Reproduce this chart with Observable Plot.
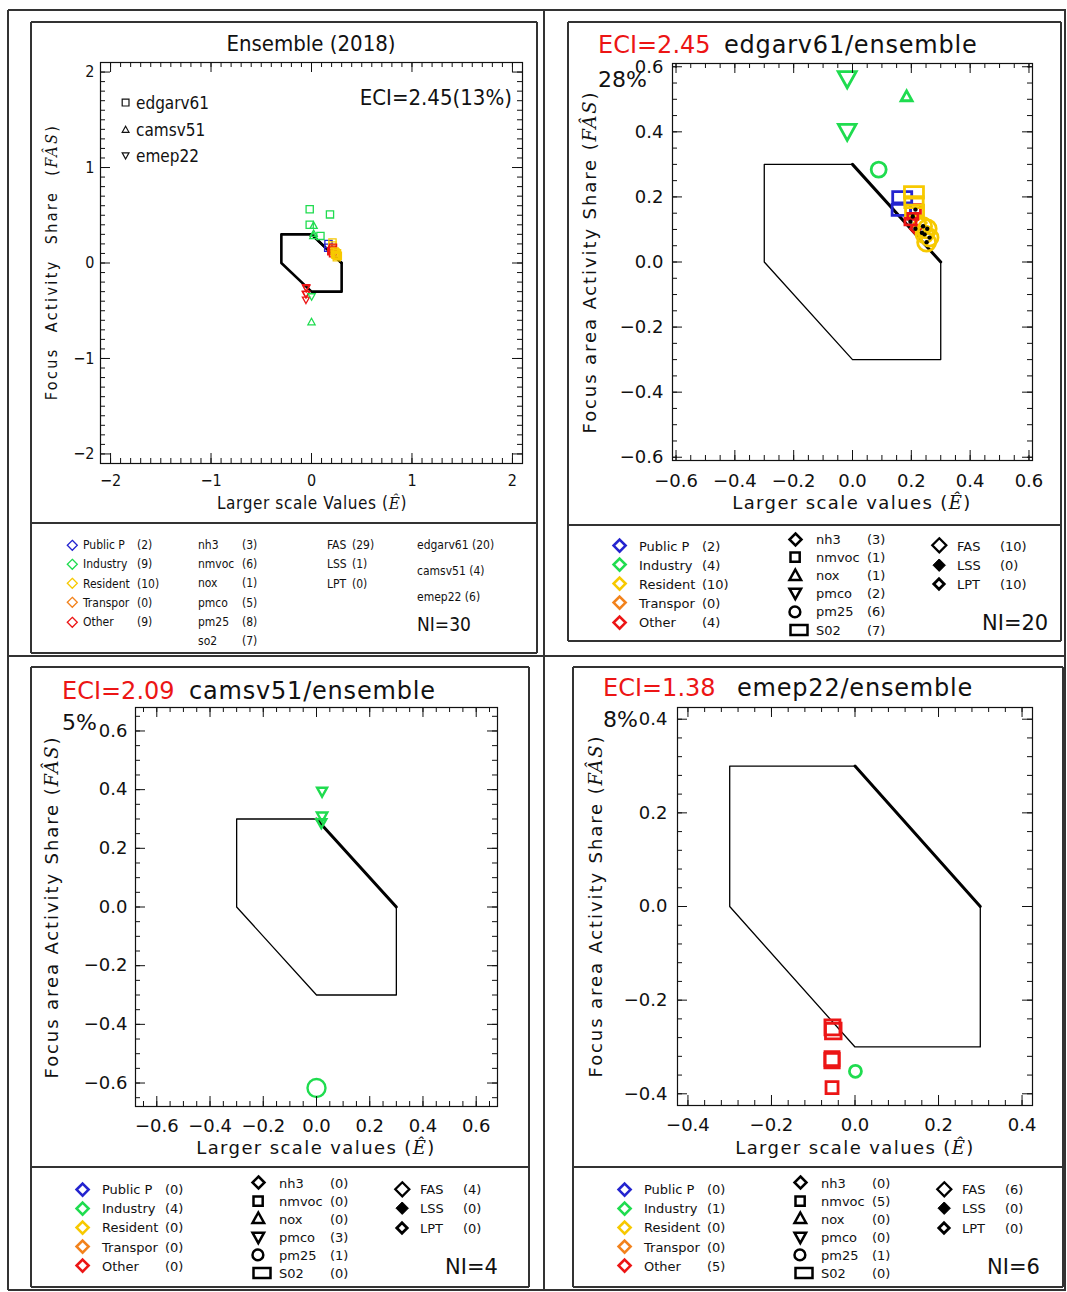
<!DOCTYPE html>
<html><head><meta charset="utf-8">
<script src="https://cdn.jsdelivr.net/npm/d3@7"></script>
<script src="https://cdn.jsdelivr.net/npm/@observablehq/plot@0.6"></script>
<style>
html,body{margin:0;padding:0;background:#fff}
#page{position:relative;width:1067px;height:1292px;overflow:hidden;background:#fff;font-family:"DejaVu Sans",sans-serif;color:#111}
.a{position:absolute;white-space:nowrap;line-height:1}
.cond{font-family:"DejaVu Sans Condensed","DejaVu Sans","Liberation Sans Narrow",sans-serif;font-stretch:condensed}
.ser{font-family:"DejaVu Serif",serif;font-style:italic}
</style></head><body><div id="page"></div>
<script>
// ================= DATA =================
const sectorNames = ["Public P", "Industry", "Resident", "Transpor", "Other"];
const sectorColors = ["#2424cf", "#1fdc4f", "#f7c900", "#f2821c", "#ec1515"];
const pollutantNames = ["nh3", "nmvoc", "nox", "pmco", "pm25", "S02"];
const pollutantNamesEns = ["nh3", "nmvoc", "nox", "pmco", "pm25", "so2"];
const classNames = ["FAS", "LSS", "LPT"];
const modelNames = ["edgarv61", "camsv51", "emep22"];

// hexagon (target area) vertices
const hexX = [-0.3, 0, 0.3, 0.3, 0, -0.3, -0.3];
const hexY = [0.3, 0.3, 0, -0.3, -0.3, 0, 0.3];

// edgarv61 points
const edgarX = [-0.018, -0.018, 0.184, 0.089, 0.169, 0.166, 0.209, 0.209, 0.211, 0.214, 0.197, 0.205, 0.214, 0.230, 0.236, 0.254, 0.252, 0.245, 0.262, 0.240];
const edgarY = [0.563, 0.401, 0.509, 0.284, 0.199, 0.160, 0.214, 0.184, 0.158, 0.161, 0.124, 0.140, 0.102, 0.120, 0.090, 0.102, 0.061, 0.085, 0.075, 0.110];
const edgarSector = ["Industry", "Industry", "Industry", "Industry", "Public P", "Public P", "Resident", "Resident", "Resident", "Other", "Other", "Other", "Other", "Resident", "Resident", "Resident", "Resident", "Resident", "Resident", "Resident"];
const edgarPollutant = ["pmco", "pmco", "nox", "pm25", "S02", "S02", "S02", "S02", "S02", "nmvoc", "S02", "S02", "nh3", "nh3", "nh3", "pm25", "pm25", "pm25", "pm25", "pm25"];
const edgarClass = ["FAS", "FAS", "FAS", "FAS", "FAS", "FAS", "FAS", "FAS", "FAS", "LPT", "LPT", "LPT", "LPT", "FAS", "LPT", "LPT", "LPT", "LPT", "LPT", "LPT"];
const edgarShare = [90, 88, 55, 75, 95, 92, 95, 92, 90, 50, 55, 50, 50, 60, 55, 90, 90, 85, 85, 85];

// camsv51 points
const camsX = [0.021, 0.021, 0.018, 0.0];
const camsY = [0.393, 0.308, 0.286, -0.617];
const camsSector = ["Industry", "Industry", "Industry", "Industry"];
const camsPollutant = ["pmco", "pmco", "pmco", "pm25"];
const camsClass = ["FAS", "FAS", "FAS", "FAS"];
const camsShare = [50, 52, 50, 90];

// emep22 points
const emepX = [-0.052, -0.054, -0.055, -0.055, -0.055, 0.001];
const emepY = [-0.266, -0.258, -0.329, -0.325, -0.387, -0.352];
const emepSector = ["Other", "Other", "Other", "Other", "Other", "Industry"];
const emepPollutant = ["nmvoc", "nmvoc", "nmvoc", "nmvoc", "nmvoc", "pm25"];
const emepClass = ["FAS", "FAS", "FAS", "FAS", "FAS", "FAS"];
const emepShare = [78, 75, 72, 70, 60, 60];

// legend counts
const ensSectorCount = [2, 9, 10, 0, 9];
const ensPollutantCount = [3, 6, 1, 5, 8, 7];
const ensClassCount = [29, 1, 0];
const ensModelCount = [20, 4, 6];
const edgarSectorCount = [2, 4, 10, 0, 4];
const edgarPollutantCount = [3, 1, 1, 2, 6, 7];
const edgarClassCount = [10, 0, 10];
const camsSectorCount = [0, 4, 0, 0, 0];
const camsPollutantCount = [0, 0, 0, 3, 1, 0];
const camsClassCount = [4, 0, 0];
const emepSectorCount = [0, 1, 0, 0, 5];
const emepPollutantCount = [0, 5, 0, 0, 1, 0];
const emepClassCount = [6, 0, 0];
const niValues = [30, 20, 4, 6];
const eciValues = ["2.45", "2.45", "2.09", "1.38"];
const eciPercent = ["13%", "28%", "5%", "8%"];

// axis ticks
const ticksEns = [-2, -1, 0, 1, 2];
const ticks06 = [-0.6, -0.4, -0.2, 0, 0.2, 0.4, 0.6];
const ticks04 = [-0.4, -0.2, 0, 0.2, 0.4];

// ================= HELPERS =================
const page = document.getElementById("page");
function el(tag, cls, style, html) {
  const e = document.createElement(tag);
  if (cls) e.className = cls;
  Object.assign(e.style, style || {});
  if (html != null) e.innerHTML = html;
  page.appendChild(e);
  return e;
}
function text(html, x, y, o = {}) {
  const {size = 16, color = "#111", anchor = "start", cond = false, rot = false, ls = null, ws = null} = o;
  const e = el("div", "a" + (cond ? " cond" : ""), {left: x + "px", top: y + "px", fontSize: size + "px", color});
  let tr = anchor === "middle" ? "translate(-50%,-50%)" : anchor === "end" ? "translate(-100%,-50%)" : "translateY(-50%)";
  if (rot) tr = "translate(-50%,-50%) rotate(-90deg)";
  e.style.transform = tr;
  if (ls) e.style.letterSpacing = ls;
  if (ws) e.style.wordSpacing = ws;
  e.innerHTML = html;
  return e;
}
function hline(x0, x1, y, w = 1.5, c = "#333") { el("div", "a", {left: x0 + "px", top: (y - w / 2) + "px", width: (x1 - x0) + "px", height: w + "px", background: c}); }
function vline(x, y0, y1, w = 1.5, c = "#333") { el("div", "a", {left: (x - w / 2) + "px", top: y0 + "px", width: w + "px", height: (y1 - y0) + "px", background: c}); }
function box(x0, y0, x1, y1, w = 1.5, c = "#333") { hline(x0, x1, y0, w, c); hline(x0, x1, y1, w, c); vline(x0, y0, y1, w, c); vline(x1, y0, y1, w, c); }

// symbols (size -> r = sqrt(size/PI))
const R = s => Math.sqrt(s / Math.PI);
const sym = {
  diamond: {draw(c, s) { const r = R(s); c.moveTo(0, -r); c.lineTo(r, 0); c.lineTo(0, r); c.lineTo(-r, 0); c.closePath(); }},
  square: {draw(c, s) { const r = R(s); c.rect(-r, -r, 2 * r, 2 * r); }},
  triUp: {draw(c, s) { const r = R(s); c.moveTo(0, -r); c.lineTo(r, 0.8 * r); c.lineTo(-r, 0.8 * r); c.closePath(); }},
  triDown: {draw(c, s) { const r = R(s); c.moveTo(0, r); c.lineTo(r, -0.8 * r); c.lineTo(-r, -0.8 * r); c.closePath(); }},
  circle: {draw(c, s) { const r = R(s); c.moveTo(r, 0); c.arc(0, 0, r, 0, 2 * Math.PI); }},
  rect: {draw(c, s) { const r = R(s); c.rect(-r, -0.6 * r, 2 * r, 1.2 * r); }}
};
const pollutantSymbol = {nh3: sym.diamond, nmvoc: sym.square, nox: sym.triUp, pmco: sym.triDown, pm25: sym.circle, S02: sym.rect};
const modelSymbol = {edgarv61: sym.square, camsv51: sym.triUp, emep22: sym.triDown};

function icon(type, cx, cy, r, stroke, fill, sw) {
  const pad = r + sw + 2, size = 2 * pad;
  const d = d3.symbol(type, r * r * Math.PI)();
  const e = el("div", "a", {left: (cx - pad) + "px", top: (cy - pad) + "px", width: size + "px", height: size + "px"});
  e.innerHTML = `<svg width="${size}" height="${size}" viewBox="${-pad} ${-pad} ${size} ${size}" style="display:block;overflow:visible"><path d="${d}" fill="${fill}" stroke="${stroke}" stroke-width="${sw}"/></svg>`;
}

function points(X, Y, S, P, C, W, model) {
  return X.map((x, i) => ({x, y: Y[i], sector: S[i], pollutant: P[i], cls: C[i], w: W[i], model,
    color: sectorColors[sectorNames.indexOf(S[i])]}));
}
const edgar = points(edgarX, edgarY, edgarSector, edgarPollutant, edgarClass, edgarShare, "edgarv61");
const cams = points(camsX, camsY, camsSector, camsPollutant, camsClass, camsShare, "camsv51");
const emep = points(emepX, emepY, emepSector, emepPollutant, emepClass, emepShare, "emep22");
const ensemble = [...edgar, ...cams, ...emep];
const hex = hexX.map((x, i) => ({x, y: hexY[i]}));

function hexMarks(thin, thick) {
  return [
    Plot.line(hex, {x: "x", y: "y", stroke: "#000", strokeWidth: thin}),
    Plot.line(hex.slice(1, 3), {x: "x", y: "y", stroke: "#000", strokeWidth: thick})
  ];
}
function modelMarks(pts, sw) {
  const marks = [];
  for (const p of pollutantNames) {
    const sub = pts.filter(d => d.pollutant === p);
    if (sub.length) marks.push(Plot.dot(sub, {x: "x", y: "y", r: "w", stroke: "color", fill: "none", strokeWidth: sw, symbol: pollutantSymbol[p]}));
  }
  const lpt = pts.filter(d => d.cls === "LPT");
  if (lpt.length) marks.push(Plot.dot(lpt, {x: "x", y: "y", r: 2.2, fill: "#000", stroke: "none"}));
  return marks;
}
function ensMarks(pts) {
  return modelNames.map(m => Plot.dot(pts.filter(d => d.model === m), {x: "x", y: "y", r: 3.6, stroke: "color", fill: "none", strokeWidth: 1.3, symbol: modelSymbol[m]}));
}

function minorTicks(dom, step) {
  return d3.range(Math.ceil(dom[0] / step - 1e-6), Math.floor(dom[1] / step + 1e-6) + 1).map(k => +(k * step).toFixed(4));
}

function panel(cfg) {
  const {frame: [fx0, fy0, fx1, fy1], xDom, yDom, xMajor, yMajor, xStep, yStep, fmt, fs, xPad, yPad, marks, fontFamily} = cfg;
  const ml = 80, mr = 14, mt = 14, mb = 50;
  const fw = fx1 - fx0, fh = fy1 - fy0;
  const xMin = minorTicks(xDom, xStep), yMin = minorTicks(yDom, yStep);
  const TM = 10, Tm = 5, k = {stroke: "#111", strokeWidth: 1};
  const svg = Plot.plot({
    width: fw + ml + mr, height: fh + mt + mb,
    marginLeft: ml, marginRight: mr, marginTop: mt, marginBottom: mb,
    x: {domain: xDom, label: null},
    y: {domain: yDom, label: null},
    color: {type: "identity"},
    r: {type: "linear", domain: [0, 100], range: [0, 10]},
    style: {fontFamily, fontSize: fs + "px", color: "#111", background: "transparent", overflow: "visible"},
    marks: [
      ...marks,
      Plot.ruleX(xMin, {x: d => d, insetTop: fh - Tm, ...k}),
      Plot.ruleX(xMin, {x: d => d, insetBottom: fh - Tm, ...k}),
      Plot.ruleX(xMajor, {x: d => d, insetTop: fh - TM, ...k}),
      Plot.ruleX(xMajor, {x: d => d, insetBottom: fh - TM, ...k}),
      Plot.ruleY(yMin, {y: d => d, insetRight: fw - Tm, ...k}),
      Plot.ruleY(yMin, {y: d => d, insetLeft: fw - Tm, ...k}),
      Plot.ruleY(yMajor, {y: d => d, insetRight: fw - TM, ...k}),
      Plot.ruleY(yMajor, {y: d => d, insetLeft: fw - TM, ...k}),
      Plot.frame({stroke: "#111", strokeWidth: 1.2}),
      Plot.axisX(xMajor, {anchor: "bottom", tickSize: 0, tickPadding: xPad, tickFormat: fmt, fontSize: fs, label: null}),
      Plot.axisY(yMajor, {anchor: "left", tickSize: 0, tickPadding: yPad, tickFormat: fmt, fontSize: fs, label: null})
    ]
  });
  const holder = el("div", "a", {left: (fx0 - ml) + "px", top: (fy0 - mt) + "px", width: (fw + ml + mr) + "px", height: (fh + mt + mb) + "px"});
  holder.appendChild(svg);
}

const f1 = d3.format(".1f"), f0 = d3.format("d");
const hatE = `<span class="ser">Ê</span>`;
const hatFAS = `<span class="ser">FÂS</span>`;
const condFont = '"DejaVu Sans Condensed","DejaVu Sans",sans-serif';

// ================= TABLE GRID =================
hline(8, 1066, 10); hline(8, 1066, 656); hline(8, 1066, 1290);
vline(8, 10, 1290); vline(544, 10, 1290); vline(1065, 10, 1290);

// ================= PANEL 1 : Ensemble =================
box(31, 22, 537, 653);
hline(31, 537, 523);
panel({frame: [100, 62, 522, 463], xDom: [-2.1, 2.1], yDom: [-2.1, 2.1], xMajor: ticksEns, yMajor: ticksEns,
  xStep: 0.1, yStep: 0.1, fmt: f0, fs: 16, xPad: 11, yPad: 6, fontFamily: condFont,
  marks: [...hexMarks(2.6, 2.6), ...ensMarks(ensemble)]});
text("Ensemble (2018)", 311, 44, {size: 22, anchor: "middle", cond: true});
text(`ECI=${eciValues[0]}(${eciPercent[0]})`, 512, 98, {size: 22, anchor: "end", cond: true});
modelNames.forEach((m, i) => {
  const y = 103 + 26.5 * i;
  icon(modelSymbol[m], 126, y, 3.4, "#111", "none", 1.2);
  text(m, 136, y, {size: 17, cond: true});
});
text(`Larger scale Values (${hatE})`, 312, 503, {size: 17, anchor: "middle", cond: true, ls: "0.6px"});
text(`Focus Activity Share (${hatFAS})`, 52, 262, {size: 16, rot: true, cond: true, ls: "2.4px", ws: "8px"});
// legend
sectorNames.forEach((s, i) => {
  const y = 545 + 19.25 * i;
  icon(sym.diamond, 72, y, 5, sectorColors[i], "none", 1.3);
  text(s, 83, y, {size: 12, cond: true});
  text(`(${ensSectorCount[i]})`, 137, y, {size: 12, cond: true});
});
pollutantNamesEns.forEach((p, i) => {
  const y = 545 + 19.2 * i;
  text(p, 198, y, {size: 12, cond: true});
  text(`(${ensPollutantCount[i]})`, 242, y, {size: 12, cond: true});
});
classNames.forEach((c, i) => {
  const y = 545 + 19.3 * i;
  text(c, 327, y, {size: 12, cond: true});
  text(`(${ensClassCount[i]})`, 352, y, {size: 12, cond: true});
});
modelNames.forEach((m, i) => {
  text(`${m} (${ensModelCount[i]})`, 417, 545 + 26 * i, {size: 12, cond: true});
});
text(`NI=${niValues[0]}`, 417, 624, {size: 19, cond: true});

// ================= PANELS 2-4 legend builder =================
function bigLegend(dx, dy, sc, pc, cc, ni) {
  sectorNames.forEach((s, i) => {
    const y = 545.7 + 19.1 * i + dy;
    icon(sym.diamond, 620 + dx, y, 6, sectorColors[i], "none", 2.6);
    text(s, 639 + dx, y, {size: 13});
    text(`(${sc[i]})`, 702 + dx, y, {size: 13});
  });
  const polR = [6, 4.6, 5.8, 5.8, 5.4, 8.5];
  pollutantNames.forEach((p, i) => {
    const y = 539 + 18.1 * i + dy;
    icon(pollutantSymbol[p], (p === "S02" ? 799 : 795) + dx, y, polR[i], "#000", "none", 2.5);
    text(p, 816 + dx, y, {size: 13});
    text(`(${pc[i]})`, 867 + dx, y, {size: 13});
  });
  const clsStyle = [[7, "none", 2.3], [6.2, "#000", 1], [5.2, "none", 2.8]];
  classNames.forEach((c, i) => {
    const y = 545.7 + 19.2 * i + dy;
    icon(sym.diamond, 939 + dx, y, clsStyle[i][0], "#000", clsStyle[i][1], clsStyle[i][2]);
    text(c, 957 + dx, y, {size: 13});
    text(`(${cc[i]})`, 1000 + dx, y, {size: 13});
  });
  text(`NI=${ni}`, 982 + dx, 623 + dy, {size: 21});
}
function heading(x, y, idx, name, blackX) {
  text(`ECI=${eciValues[idx]}`, x, y, {size: 24, color: "#ec1515"});
  text(`${name}/ensemble`, blackX, y, {size: 24, ls: "0.8px"});
}

// ================= PANEL 2 : edgarv61 =================
box(568, 22, 1061, 641);
hline(568, 1061, 525);
panel({frame: [672, 63, 1032, 460], xDom: [-0.612, 0.612], yDom: [-0.61, 0.61], xMajor: ticks06, yMajor: ticks06,
  xStep: 0.05, yStep: 0.05, fmt: f1, fs: 18, xPad: 14, yPad: 9, fontFamily: '"DejaVu Sans",sans-serif',
  marks: [...hexMarks(1.3, 3), ...modelMarks(edgar, 2.8)]});
heading(598, 45, 1, "edgarv61", 724);
text(eciPercent[1], 598, 80, {size: 22});
text(`Larger scale values (${hatE})`, 852, 503, {size: 18, anchor: "middle", ls: "1.4px"});
text(`Focus area Activity Share (${hatFAS})`, 590, 262, {size: 18, rot: true, ls: "1.9px"});
bigLegend(0, 0, edgarSectorCount, edgarPollutantCount, edgarClassCount, niValues[1]);

// ================= PANEL 3 : camsv51 =================
box(31, 667, 529, 1287);
hline(31, 529, 1167);
panel({frame: [135, 707, 497, 1106], xDom: [-0.68, 0.68], yDom: [-0.68, 0.68], xMajor: ticks06, yMajor: ticks06,
  xStep: 0.05, yStep: 0.05, fmt: f1, fs: 18, xPad: 13, yPad: 8, fontFamily: '"DejaVu Sans",sans-serif',
  marks: [...hexMarks(1.3, 3), ...modelMarks(cams, 2.4)]});
heading(62, 691, 2, "camsv51", 189);
text(eciPercent[2], 62, 723, {size: 22});
text(`Larger scale values (${hatE})`, 316, 1148, {size: 18, anchor: "middle", ls: "1.4px"});
text(`Focus area Activity Share (${hatFAS})`, 52, 907, {size: 18, rot: true, ls: "1.9px"});
bigLegend(-537, 643.5, camsSectorCount, camsPollutantCount, camsClassCount, niValues[2]);

// ================= PANEL 4 : emep22 =================
box(573, 667, 1063, 1287);
hline(573, 1063, 1167);
panel({frame: [677, 707, 1032, 1105], xDom: [-0.425, 0.425], yDom: [-0.425, 0.425], xMajor: ticks04, yMajor: ticks04,
  xStep: 0.04, yStep: 0.04, fmt: f1, fs: 18, xPad: 13, yPad: 10, fontFamily: '"DejaVu Sans",sans-serif',
  marks: [...hexMarks(1.3, 3), ...modelMarks(emep, 2.8)]});
heading(603, 688, 3, "emep22", 737);
text(eciPercent[3], 603, 720, {size: 22});
text(`Larger scale values (${hatE})`, 855, 1148, {size: 18, anchor: "middle", ls: "1.4px"});
text(`Focus area Activity Share (${hatFAS})`, 596, 906, {size: 18, rot: true, ls: "1.9px"});
bigLegend(5, 643.5, emepSectorCount, emepPollutantCount, emepClassCount, niValues[3]);
</script></body></html>
